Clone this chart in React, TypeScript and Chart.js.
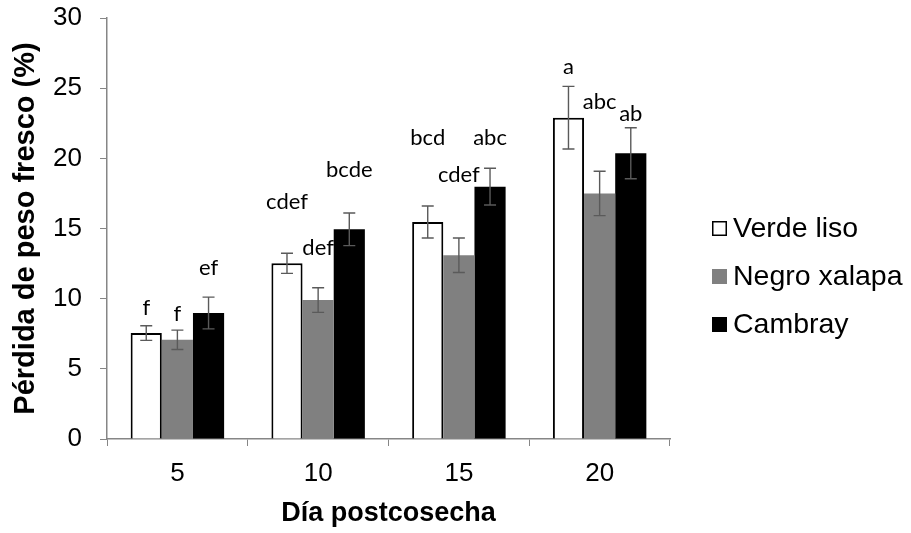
import { useEffect, useRef } from "react";
import { Chart, registerables } from "chart.js";
Chart.register(...registerables);

const days = ["5", "10", "15", "20"];
const seriesNames = ["Verde liso", "Negro xalapa", "Cambray"];
const verdeLiso = [7.55, 12.52, 15.46, 22.9];
const verdeLisoErr = [0.52, 0.72, 1.14, 2.23];
const negroXalapa = [7.07, 9.9, 13.09, 17.5];
const negroXalapaErr = [0.69, 0.88, 1.23, 1.58];
const cambray = [8.98, 14.94, 17.98, 20.36];
const cambrayErr = [1.13, 1.16, 1.31, 1.82];
const verdeLisoLetters = ["f", "cdef", "bcd", "a"];
const negroXalapaLetters = ["f", "def", "cdef", "abc"];
const cambrayLetters = ["ef", "bcde", "abc", "ab"];
const verdeLisoLetterLevel = [9.34, 16.9, 21.45, 26.5];
const negroXalapaLetterLevel = [8.9, 13.6, 18.8, 24.0];
const cambrayLetterLevel = [12.2, 19.2, 21.45, 23.2];
const yMin = 0;
const yMax = 30;
const yStep = 5;

const errs = [verdeLisoErr, negroXalapaErr, cambrayErr];
const letters = [verdeLisoLetters, negroXalapaLetters, cambrayLetters];
const letterLevels = [verdeLisoLetterLevel, negroXalapaLetterLevel, cambrayLetterLevel];

const annotPlugin = {
  id: "annot",
  afterDatasetsDraw(chart: any) {
    const ctx = chart.ctx;
    const y = chart.scales.y;
    ctx.save();
    chart.data.datasets.forEach((ds: any, di: number) => {
      const meta = chart.getDatasetMeta(di);
      meta.data.forEach((bar: any, i: number) => {
        const v = ds.data[i];
        const e = errs[di][i];
        const x = bar.x;
        const yt = y.getPixelForValue(v + e);
        const yb = y.getPixelForValue(v - e);
        ctx.strokeStyle = "#5a5a5a";
        ctx.lineWidth = 1.4;
        ctx.beginPath();
        ctx.moveTo(x, yt);
        ctx.lineTo(x, yb);
        ctx.moveTo(x - 6, yt);
        ctx.lineTo(x + 6, yt);
        ctx.moveTo(x - 6, yb);
        ctx.lineTo(x + 6, yb);
        ctx.stroke();
        ctx.fillStyle = "#000";
        ctx.font = "22px Lato, 'Open Sans', sans-serif";
        ctx.textAlign = "center";
        ctx.textBaseline = "middle";
        ctx.fillText(letters[di][i], x, y.getPixelForValue(letterLevels[di][i]));
      });
    });
    // legend
    const area = chart.chartArea;
    const mid = (area.top + area.bottom) / 2;
    const lx = area.right + 42;
    chart.data.datasets.forEach((ds: any, di: number) => {
      const cy = mid + di * 48;
      ctx.fillStyle = ds.backgroundColor;
      ctx.fillRect(lx, cy - 7.5, 15, 15);
      if (ds.borderWidth) {
        ctx.strokeStyle = "#000";
        ctx.lineWidth = 1.5;
        ctx.strokeRect(lx + 0.75, cy - 6.75, 13.5, 13.5);
      }
      ctx.fillStyle = "#000";
      ctx.font = "28.5px 'Liberation Sans', Arial, sans-serif";
      ctx.textAlign = "left";
      ctx.textBaseline = "middle";
      ctx.fillText(ds.label, lx + 21, cy + 1);
    });
    ctx.restore();
  },
};

export default function App() {
  const ref = useRef<HTMLCanvasElement>(null);
  useEffect(() => {
    document.body.style.margin = "0";
    const axisFont = { family: "'Liberation Sans', Arial, sans-serif", size: 26, lineHeight: 1 };
    const xTitleFont = { family: "'Liberation Sans', Arial, sans-serif", size: 27, weight: "bold" as const, lineHeight: 1 };
    const yTitleFont = { family: "'Liberation Sans', Arial, sans-serif", size: 29, weight: "bold" as const, lineHeight: 1 };
    const chart = new Chart(ref.current!, {
      type: "bar",
      data: {
        labels: days,
        datasets: [
          { label: seriesNames[0], data: verdeLiso, backgroundColor: "#ffffff", borderColor: "#000000", borderWidth: 2 },
          { label: seriesNames[1], data: negroXalapa, backgroundColor: "#808080", borderWidth: 0 },
          { label: seriesNames[2], data: cambray, backgroundColor: "#000000", borderWidth: 0 },
        ],
      },
      options: {
        animation: false,
        responsive: false,
        layout: { padding: { top: 18, right: 241, left: 4, bottom: 5.5 } },
        datasets: { bar: { categoryPercentage: 0.664, barPercentage: 1.0 } },
        plugins: { legend: { display: false }, tooltip: { enabled: false } },
        scales: {
          x: {
            grid: { drawOnChartArea: false, drawTicks: true, tickLength: 7, color: "#868686", offset: true },
            border: { color: "#868686", width: 1.5 },
            ticks: { font: axisFont, color: "#000", padding: 15 },
            title: { display: true, text: "Día postcosecha", font: xTitleFont, color: "#000", padding: { top: -1.5, bottom: 0 } },
          },
          y: {
            min: yMin,
            max: yMax,
            grid: { drawOnChartArea: false, drawTicks: true, tickLength: 7, color: "#868686" },
            border: { color: "#868686", width: 1.5 },
            ticks: { stepSize: yStep, font: axisFont, color: "#000", padding: 18 },
            title: { display: true, text: "Pérdida de peso fresco (%)", font: yTitleFont, color: "#000", padding: { top: 7.5, bottom: -5.4 } },
            afterFit: (scale: any) => {
              scale.paddingTop = 0;
              scale.paddingBottom = 0;
            },
          },
        },
      },
      plugins: [annotPlugin],
    });
    return () => chart.destroy();
  }, []);
  return <canvas ref={ref} width={911} height={533} style={{ display: "block" }} />;
}
